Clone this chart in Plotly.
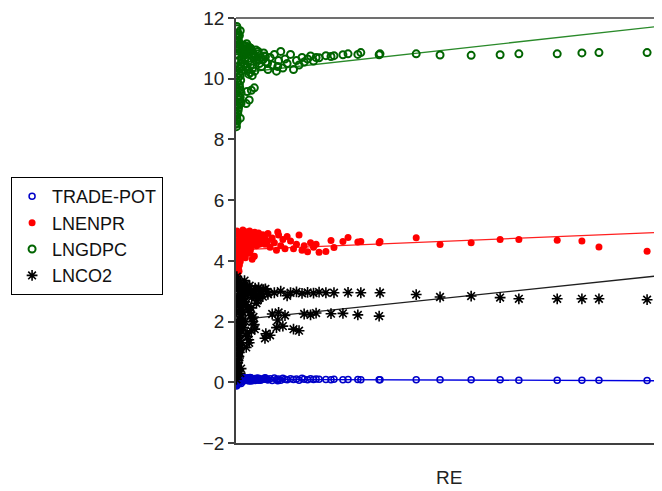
import plotly.graph_objects as go

# RE (x) values shared by all series
re_vals = [
    0.1, 0.3, 0.2, 0.5, 0.4, 0.7, 0.6, 0.9, 0.8, 1.1, 1.0, 1.3, 1.2, 1.5, 1.4, 1.7, 1.6, 1.9, 1.8, 2.1,
    2.0, 0.2, 0.5, 0.3, 0.1, 0.6, 0.4, 0.9, 0.7, 1.2, 1.0, 0.0,
    2.5, 3.0, 3.5, 4.0, 4.5, 5.0, 5.5, 6.0, 2.8, 3.3, 3.8, 4.3, 3.6, 2.6, 3.1, 2.4, 4.8, 5.2, 2.2, 1.8,
    6.5, 7.0, 7.5, 8.0, 8.5, 9.0, 9.5, 10.0, 10.5, 11.0, 11.5, 12.0, 6.8, 9.8,
    12.8, 13.5, 14.2, 14.8, 15.5, 16.0, 16.8, 17.5, 18.2, 18.8,
    19.5, 21.1, 22.3, 23.0, 25.1, 26.3, 28.6, 29.3, 33.6, 33.8, 42.3, 47.9, 55.2, 62.0, 66.4, 75.4,
    81.2, 85.2, 96.5,
    0.0, 0.2, 0.4, 0.6, 0.8, 1.0, 1.2, 0.1, 0.3, 0.5, 0.7, 0.9, 1.1, 1.3, 0.0, 0.2, 0.4, 0.6, 0.8, 1.0,
    0.3, 0.5, 0.7, 0.1, 0.9, 1.4, 1.6, 1.8, 2.2, 2.4,
    2.3, 2.7, 3.2, 3.7, 4.2, 4.7, 5.3, 5.8, 6.3, 6.9, 7.4, 2.9, 3.4, 3.9, 4.4, 2.1, 2.6, 3.0, 3.5, 4.1,
]

trade_pot = [
    -0.12, -0.05, 0.02, 0.10, 0.05, 0.15, -0.02, 0.08, 0.12, 0.04, 0.18, 0.09, 0.01, 0.14, 0.07, 0.16,
    0.03, 0.11, 0.06, 0.13, 0.10, 0.00, 0.19, -0.08, 0.08, 0.14, 0.04, 0.12, 0.06, 0.17, 0.02, 0.09,
    0.12, 0.08, 0.15, 0.10, 0.06, 0.13, 0.09, 0.11, 0.07, 0.16, 0.05, 0.12, 0.09, 0.14, 0.04, 0.10,
    0.13, 0.07, 0.11, 0.15,
    0.10, 0.13, 0.08, 0.12, 0.06, 0.14, 0.09, 0.11, 0.07, 0.13, 0.10, 0.08, 0.15, 0.05,
    0.12, 0.09, 0.11, 0.07, 0.13, 0.10, 0.08, 0.12, 0.09, 0.11,
    0.10, 0.09, 0.08, 0.10, 0.08, 0.09, 0.09, 0.08, 0.08, 0.08, 0.08, 0.08, 0.08, 0.08, 0.07, 0.07,
    0.07, 0.07, 0.06,
    0.05, -0.10, 0.12, 0.00, 0.16, 0.06, -0.04, 0.13, 0.07, -0.06, 0.11, 0.03, 0.15, 0.08, 0.01, 0.17,
    0.09, -0.03, 0.14, 0.05, 0.10, 0.02, 0.12, -0.10, 0.07, 0.11, 0.14, 0.09, 0.12, 0.08,
    0.11, 0.08, 0.14, 0.06, 0.12, 0.09, 0.13, 0.07, 0.10, 0.12, 0.08, 0.15, 0.05, 0.11, 0.09, 0.13,
    0.06, 0.12, 0.10, 0.08,
]

lnenpr = [
    3.50, 3.62, 3.75, 3.88, 4.00, 4.10, 4.20, 4.30, 4.40, 4.48, 4.56, 4.64, 4.72, 4.80, 4.88, 4.95,
    5.02, 4.90, 4.70, 4.50, 4.30, 4.95, 4.60, 4.20, 3.80, 4.85, 4.45, 4.05, 3.66, 4.75, 4.35, 4.65,
    4.95, 4.85, 4.75, 4.90, 4.65, 4.80, 4.55, 4.70, 4.45, 4.30, 4.05, 4.15, 4.60, 4.40, 4.25, 4.70,
    4.50, 4.85, 4.10, 4.95,
    4.80, 4.65, 4.90, 4.45, 4.75, 4.60, 4.35, 4.85, 4.50, 4.70, 4.40, 4.80, 4.55, 4.95,
    4.65, 4.40, 4.55, 4.85, 4.35, 4.50, 4.30, 4.60, 4.45, 4.55,
    4.28, 4.31, 4.67, 4.44, 4.64, 4.77, 4.62, 4.64, 4.60, 4.64, 4.76, 4.54, 4.60, 4.70, 4.70, 4.68,
    4.65, 4.46, 4.32,
    3.56, 3.70, 3.82, 3.94, 4.06, 4.16, 4.26, 4.36, 4.46, 4.54, 4.62, 4.70, 4.78, 4.86, 4.92, 4.98,
    3.60, 3.72, 3.86, 3.98, 4.12, 4.24, 4.38, 4.52, 4.68, 4.82, 4.92, 4.98, 4.88, 4.76,
    4.88, 4.72, 4.98, 4.62, 4.84, 4.68, 4.92, 4.58, 4.86, 4.72, 4.64, 4.52, 4.38, 4.82, 4.94, 4.60,
    4.78, 4.90, 4.48, 4.70,
]

lngdpc = [
    8.42, 8.60, 8.78, 8.95, 9.12, 9.30, 9.45, 9.62, 9.80, 9.95, 10.10, 10.25, 10.40, 10.55, 10.70, 10.85,
    11.00, 10.95, 10.80, 10.65, 10.45, 11.72, 11.50, 11.20, 11.35, 10.60, 11.05, 9.70, 9.40, 9.20, 8.70, 8.50,
    11.15, 11.05, 10.95, 10.85, 10.75, 10.65, 10.50, 10.40, 10.30, 10.20, 10.10, 9.70, 9.62, 9.58, 9.30, 9.18,
    10.60, 10.90, 10.70, 11.10,
    10.85, 10.55, 10.30, 10.70, 10.45, 10.80, 10.25, 10.60, 10.90, 10.35, 10.65, 10.50, 10.75, 10.40,
    10.80, 10.30, 10.60, 10.45, 10.70, 10.55, 10.65, 10.75, 10.58, 10.70,
    10.69, 10.76, 10.73, 10.76, 10.79, 10.82, 10.80, 10.86, 10.79, 10.82, 10.82, 10.78, 10.77, 10.79, 10.82, 10.82,
    10.85, 10.86, 10.86,
    8.52, 8.68, 8.86, 9.04, 9.20, 9.38, 9.54, 9.72, 9.88, 10.02, 10.18, 10.32, 10.48, 10.62, 10.78, 10.92,
    11.08, 11.25, 11.42, 11.58, 11.65, 11.40, 11.12, 10.98, 10.35, 10.80, 10.92, 11.08, 10.98, 10.88,
    11.08, 10.98, 10.88, 10.92, 10.78, 10.95, 10.82, 10.70, 10.62, 10.72, 10.50, 10.58, 10.45, 10.35, 10.25, 10.80,
    10.40, 10.15, 11.00, 10.68,
]

lnco2 = [
    0.20, 0.38, 0.55, 0.72, 0.90, 1.05, 1.22, 1.38, 1.55, 1.70, 1.85, 2.00, 2.15, 2.30, 2.45, 2.60,
    2.75, 2.90, 3.05, 3.20, 3.35, 3.48, 3.10, 2.70, 2.35, 1.95, 1.60, 1.25, 0.85, 0.45, 0.30, 0.62,
    3.15, 3.05, 2.95, 2.85, 3.10, 2.70, 3.00, 2.90, 2.50, 2.30, 2.10, 1.90, 1.70, 1.50, 1.30, 1.15,
    2.60, 2.75, 2.00, 1.80,
    3.05, 1.60, 2.90, 1.55, 2.25, 2.95, 1.80, 2.30, 3.00, 1.85, 2.20, 2.85, 1.45, 2.05,
    2.95, 1.75, 2.98, 1.70, 2.93, 2.25, 2.96, 2.22, 2.94, 2.28,
    2.97, 2.95, 2.26, 2.95, 2.27, 2.96, 2.22, 2.95, 2.18, 2.95, 2.89, 2.81, 2.84, 2.79, 2.75, 2.75,
    2.75, 2.75, 2.72,
    0.26, 0.45, 0.64, 0.80, 0.98, 1.14, 1.30, 1.46, 1.62, 1.78, 1.92, 2.08, 2.22, 2.38, 2.52, 2.66,
    2.82, 2.98, 3.12, 3.28, 3.40, 3.26, 2.55, 0.10, 1.10, 2.85, 3.00, 2.65, 2.95, 3.05,
    3.08, 2.95, 3.18, 2.80, 3.02, 2.88, 3.12, 2.92, 2.82, 3.08, 2.98, 2.40, 2.20, 2.00, 1.75, 2.65,
    1.62, 1.40, 2.45, 2.15,
]

# fitted regression lines (endpoints)
fit_x = [0, 100]
fit_trade_pot = [0.10, 0.05]
fit_lnenpr = [4.36, 4.94]
fit_lngdpc = [10.18, 11.74]
fit_lnco2 = [2.05, 3.52]

series = [
    ("TRADE-POT", trade_pot, fit_trade_pot, "#0000c8", "circle-open", 6, 1.5, "#0000e0"),
    ("LNENPR", lnenpr, fit_lnenpr, "#ff0000", "circle", 7, 0, "#ff2020"),
    ("LNGDPC", lngdpc, fit_lngdpc, "#006400", "circle-open", 7, 2.0, "#2a8a2a"),
    ("LNCO2", lnco2, fit_lnco2, "#000000", "asterisk-open", 9, 1.6, "#202020"),
]

fig = go.Figure()
for name, ys, fit, mcol, sym, size, lw, lcol in series:
    fig.add_trace(go.Scatter(
        x=fit_x, y=fit, mode="lines", line=dict(color=lcol, width=1.3),
        showlegend=False, hoverinfo="skip"))
for name, ys, fit, mcol, sym, size, lw, lcol in series:
    fig.add_trace(go.Scatter(
        x=re_vals, y=ys, mode="markers", name=name,
        marker=dict(symbol=sym, size=size, color=mcol, line=dict(color=mcol, width=lw))))

axis_col = "#404040"
font_family = "Liberation Sans, Arial, sans-serif"

# the page body adds an 8px offset, so the figure is sized to fit the window
fig.update_layout(
    width=654, height=483,
    margin=dict(l=228, r=0, t=10, b=48),
    paper_bgcolor="white", plot_bgcolor="white",
    font=dict(family=font_family, size=19, color="#222222"),
    showlegend=True,
    legend=dict(
        x=-0.528, y=0.487, xanchor="left", yanchor="middle",
        bordercolor="#000000", borderwidth=1, bgcolor="white",
        font=dict(family=font_family, size=18, color="#111111"),
        tracegroupgap=0,
    ),
    xaxis=dict(
        range=[0, 100], showticklabels=False, ticks="", showgrid=False, zeroline=False,
        showline=True, linecolor=axis_col, linewidth=1.5,
    ),
    yaxis=dict(
        range=[-2, 12], tick0=0, dtick=2, ticks="outside", ticklen=6, tickwidth=1.5,
        tickcolor=axis_col, showgrid=False, zeroline=False,
        showline=True, linecolor=axis_col, linewidth=1.5,
        ticklabeloverflow="allow",
        tickfont=dict(family=font_family, size=19, color="#222222"),
    ),
    shapes=[dict(type="line", xref="paper", yref="paper", x0=0, x1=1, y0=1, y1=1,
                 line=dict(color=axis_col, width=1.5))],
    annotations=[dict(text="RE", xref="paper", yref="paper", x=0.5, y=-0.0812,
                      xanchor="center", yanchor="middle", showarrow=False, borderpad=0,
                      font=dict(family=font_family, size=19, color="#222222"))],
)

fig.write_html("out.html")
